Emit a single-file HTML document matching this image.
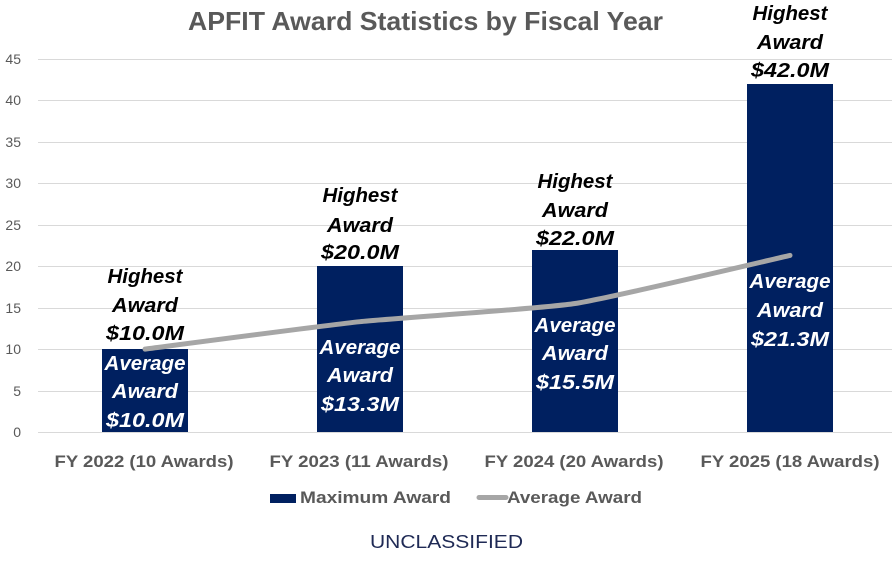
<!DOCTYPE html>
<html>
<head>
<meta charset="utf-8">
<style>
html,body{margin:0;padding:0;background:#fff;}
svg{display:block;}
</style>
</head>
<body>
<svg width="892" height="564" viewBox="0 0 892 564" xmlns="http://www.w3.org/2000/svg" font-family="'Liberation Sans', Arial, sans-serif">
  <rect width="892" height="564" fill="#fff"/>
  <!-- Title -->
  <text x="188" y="30" font-size="26" font-weight="bold" fill="#595959" textLength="475" lengthAdjust="spacingAndGlyphs">APFIT Award Statistics by Fiscal Year</text>

  <!-- Gridlines -->
  <g stroke="#d9d9d9" stroke-width="1">
    <line x1="38" y1="59.5" x2="892" y2="59.5"/>
    <line x1="38" y1="100.5" x2="892" y2="100.5"/>
    <line x1="38" y1="142.5" x2="892" y2="142.5"/>
    <line x1="38" y1="183.5" x2="892" y2="183.5"/>
    <line x1="38" y1="225.5" x2="892" y2="225.5"/>
    <line x1="38" y1="266.5" x2="892" y2="266.5"/>
    <line x1="38" y1="308.5" x2="892" y2="308.5"/>
    <line x1="38" y1="349.5" x2="892" y2="349.5"/>
    <line x1="38" y1="391.5" x2="892" y2="391.5"/>
    <line x1="38" y1="432.5" x2="892" y2="432.5"/>
  </g>

  <!-- Y tick labels -->
  <g font-size="14" fill="#595959" text-anchor="end">
    <text x="21" y="64">45</text>
    <text x="21" y="105">40</text>
    <text x="21" y="147">35</text>
    <text x="21" y="188">30</text>
    <text x="21" y="230">25</text>
    <text x="21" y="271">20</text>
    <text x="21" y="313">15</text>
    <text x="21" y="354">10</text>
    <text x="21" y="396">5</text>
    <text x="21" y="437">0</text>
  </g>

  <!-- Bars -->
  <g fill="#002060">
    <rect x="102" y="349" width="86" height="83"/>
    <rect x="317" y="266" width="86" height="166"/>
    <rect x="532" y="250" width="86" height="182"/>
    <rect x="747" y="84" width="86" height="348"/>
  </g>

  <!-- Average line -->
  <path d="M145,349.1 C162.9,346.8 324.2,325.5 360,321.7 C395.8,317.9 539.2,309.0 575,303.5 C610.8,298.0 772.1,259.4 790,255.4" fill="none" stroke="#a6a6a6" stroke-width="5" stroke-linecap="round"/>

  <!-- Highest labels -->
  <g font-size="20" font-weight="bold" font-style="italic" fill="#000" text-anchor="middle">
    <text x="145" y="283" textLength="75" lengthAdjust="spacingAndGlyphs">Highest</text>
    <text x="145" y="312" textLength="66" lengthAdjust="spacingAndGlyphs">Award</text>
    <text x="145" y="340" textLength="78" lengthAdjust="spacingAndGlyphs">$10.0M</text>

    <text x="360" y="202" textLength="75" lengthAdjust="spacingAndGlyphs">Highest</text>
    <text x="360" y="232" textLength="66" lengthAdjust="spacingAndGlyphs">Award</text>
    <text x="360" y="259" textLength="78" lengthAdjust="spacingAndGlyphs">$20.0M</text>

    <text x="575" y="188" textLength="75" lengthAdjust="spacingAndGlyphs">Highest</text>
    <text x="575" y="217" textLength="66" lengthAdjust="spacingAndGlyphs">Award</text>
    <text x="575" y="245" textLength="78" lengthAdjust="spacingAndGlyphs">$22.0M</text>

    <text x="790" y="20" textLength="75" lengthAdjust="spacingAndGlyphs">Highest</text>
    <text x="790" y="49" textLength="66" lengthAdjust="spacingAndGlyphs">Award</text>
    <text x="790" y="77" textLength="78" lengthAdjust="spacingAndGlyphs">$42.0M</text>
  </g>

  <!-- Average labels -->
  <g font-size="20" font-weight="bold" font-style="italic" fill="#fff" text-anchor="middle">
    <text x="145" y="370" textLength="81" lengthAdjust="spacingAndGlyphs">Average</text>
    <text x="145" y="398" textLength="66" lengthAdjust="spacingAndGlyphs">Award</text>
    <text x="145" y="427" textLength="78" lengthAdjust="spacingAndGlyphs">$10.0M</text>

    <text x="360" y="354" textLength="81" lengthAdjust="spacingAndGlyphs">Average</text>
    <text x="360" y="382" textLength="66" lengthAdjust="spacingAndGlyphs">Award</text>
    <text x="360" y="411" textLength="78" lengthAdjust="spacingAndGlyphs">$13.3M</text>

    <text x="575" y="332" textLength="81" lengthAdjust="spacingAndGlyphs">Average</text>
    <text x="575" y="360" textLength="66" lengthAdjust="spacingAndGlyphs">Award</text>
    <text x="575" y="389" textLength="78" lengthAdjust="spacingAndGlyphs">$15.5M</text>

    <text x="790" y="288" textLength="81" lengthAdjust="spacingAndGlyphs">Average</text>
    <text x="790" y="317" textLength="66" lengthAdjust="spacingAndGlyphs">Award</text>
    <text x="790" y="346" textLength="78" lengthAdjust="spacingAndGlyphs">$21.3M</text>
  </g>

  <!-- Category labels -->
  <g font-size="17" font-weight="bold" fill="#595959" text-anchor="middle">
    <text x="144" y="467" textLength="179" lengthAdjust="spacingAndGlyphs">FY 2022 (10 Awards)</text>
    <text x="359" y="467" textLength="179" lengthAdjust="spacingAndGlyphs">FY 2023 (11 Awards)</text>
    <text x="574" y="467" textLength="179" lengthAdjust="spacingAndGlyphs">FY 2024 (20 Awards)</text>
    <text x="790" y="467" textLength="179" lengthAdjust="spacingAndGlyphs">FY 2025 (18 Awards)</text>
  </g>

  <!-- Legend -->
  <rect x="270" y="494" width="26" height="9" fill="#002060"/>
  <text x="300" y="503" font-size="17" font-weight="bold" fill="#595959" textLength="151" lengthAdjust="spacingAndGlyphs">Maximum Award</text>
  <line x1="479" y1="497.5" x2="506" y2="497.5" stroke="#a6a6a6" stroke-width="5" stroke-linecap="round"/>
  <text x="507" y="503" font-size="17" font-weight="bold" fill="#595959" textLength="135" lengthAdjust="spacingAndGlyphs">Average Award</text>

  <!-- Footer -->
  <text x="370" y="548" font-size="18" fill="#1f2a55" textLength="153" lengthAdjust="spacingAndGlyphs">UNCLASSIFIED</text>
</svg>
</body>
</html>
